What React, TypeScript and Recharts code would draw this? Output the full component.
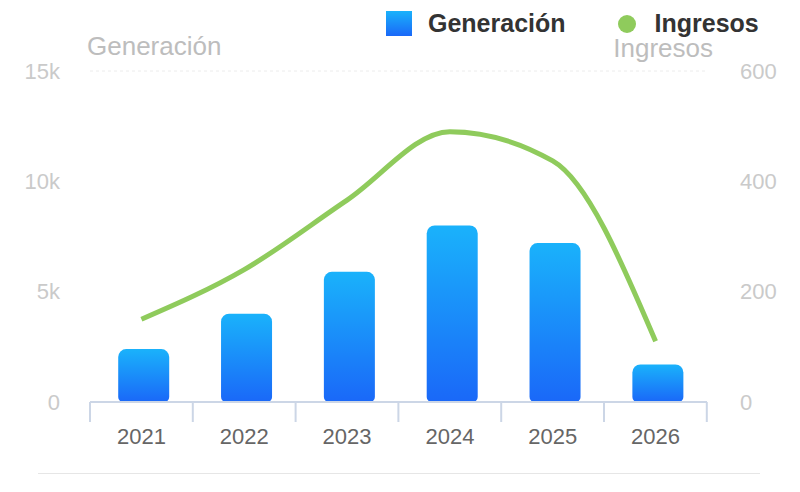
import { ComposedChart, Bar, Line, XAxis, YAxis, CartesianGrid, Legend, Rectangle } from 'recharts';

const years = ['2021', '2022', '2023', '2024', '2025', '2026'];
const generacion = [2400, 4000, 5900, 8000, 7200, 1700];
const ingresos = [150, 240, 366, 490, 437, 110];
const leftTicks = [0, 5000, 10000, 15000];
const rightTicks = [0, 200, 400, 600];

const data = years.map((year, i) => ({
  year,
  generacion: generacion[i],
  ingresos: ingresos[i],
}));

const FONT = '"Liberation Sans", Arial, Helvetica, sans-serif';

const formatK = (v: number) => (v === 0 ? '0' : `${v / 1000}k`);

function LegendContent() {
  return (
    <div style={{ display: 'flex', alignItems: 'center', fontFamily: FONT, fontWeight: 700, fontSize: 25, color: '#333' }}>
      <svg width={26} height={25} style={{ marginRight: 16 }}>
        <defs>
          <linearGradient id="legendBlue" x1="0" y1="0" x2="0" y2="1">
            <stop offset="0%" stopColor="#1ab2fb" />
            <stop offset="100%" stopColor="#1a68f8" />
          </linearGradient>
        </defs>
        <rect width={26} height={25} fill="url(#legendBlue)" />
      </svg>
      <span>Generación</span>
      <svg width={18} height={18} style={{ marginLeft: 52, marginRight: 19 }}>
        <circle cx={9} cy={9} r={9} fill="#8fcb5c" />
      </svg>
      <span>Ingresos</span>
    </div>
  );
}

// bars sit a couple of pixels right of the category centre in the original
const ShiftedBar = (props: any) => <Rectangle {...props} x={props.x + 2.5} />;

export default function App() {
  return (
    <div style={{ position: 'relative', width: 800, height: 492, margin: -8, background: '#fff' }}>
      <ComposedChart width={800} height={492} data={data} margin={{ top: 71, right: 0, bottom: 40, left: 0 }} barCategoryGap="25%">
        <defs>
          <linearGradient id="barBlue" x1="0" y1="0" x2="0" y2="1">
            <stop offset="0%" stopColor="#1ab2fb" />
            <stop offset="100%" stopColor="#1a68f8" />
          </linearGradient>
        </defs>
        <CartesianGrid vertical={false} stroke="#ececec" strokeDasharray="3 3" />
        <XAxis
          dataKey="year"
          height={50}
          axisLine={{ stroke: '#ccd6e6', strokeWidth: 2 }}
          tickLine={false}
          tick={{ fill: '#666', fontSize: 22, fontFamily: FONT }}
          tickMargin={20}
        />
        <YAxis
          yAxisId="left"
          width={90}
          domain={[0, 15000]}
          ticks={leftTicks}
          tickFormatter={formatK}
          axisLine={false}
          tickLine={false}
          tickSize={0}
          tickMargin={30}
          tick={{ fill: '#cacaca', fontSize: 22, fontFamily: FONT }}
          label={{
            content: ({ viewBox }: any) => (
              <text x={viewBox.x + 87} y={viewBox.y - 16} fill="#bdbdbd" fontSize={26} fontFamily={FONT} textAnchor="start">
                Generación
              </text>
            ),
          }}
        />
        <YAxis
          yAxisId="right"
          orientation="right"
          width={93}
          domain={[0, 600]}
          ticks={rightTicks}
          axisLine={false}
          tickLine={false}
          tickSize={0}
          tickMargin={33}
          tick={{ fill: '#cacaca', fontSize: 22, fontFamily: FONT }}
          label={{
            content: ({ viewBox }: any) => (
              <text x={viewBox.x + 6} y={viewBox.y - 14} fill="#bdbdbd" fontSize={26} fontFamily={FONT} textAnchor="end">
                Ingresos
              </text>
            ),
          }}
        />
        <Legend
          layout="horizontal"
          verticalAlign="middle"
          content={<LegendContent />}
          wrapperStyle={{ top: 9, left: 386, width: 414, height: 26 }}
        />
        <Bar
          yAxisId="left"
          dataKey="generacion"
          name="Generación"
          fill="url(#barBlue)"
          radius={[8, 8, 5, 5] as any}
          shape={ShiftedBar}
          isAnimationActive={false}
        />
        <Line
          yAxisId="right"
          type="monotone"
          dataKey="ingresos"
          name="Ingresos"
          stroke="#8fcb5c"
          strokeWidth={5}
          dot={false}
          activeDot={false}
          isAnimationActive={false}
        />
      </ComposedChart>
      <svg style={{ position: 'absolute', left: 0, top: 0, pointerEvents: 'none' }} width={800} height={492}>
        {[0, 1, 2, 3, 4, 5, 6].map((i) => (
          <line key={i} x1={90 + i * 102.8} x2={90 + i * 102.8} y1={402} y2={422} stroke="#ccd6e6" strokeWidth={2} />
        ))}
      </svg>
      <div style={{ position: 'absolute', left: 38, top: 473, width: 722, height: 1, background: '#e6e6e6' }} />
    </div>
  );
}
